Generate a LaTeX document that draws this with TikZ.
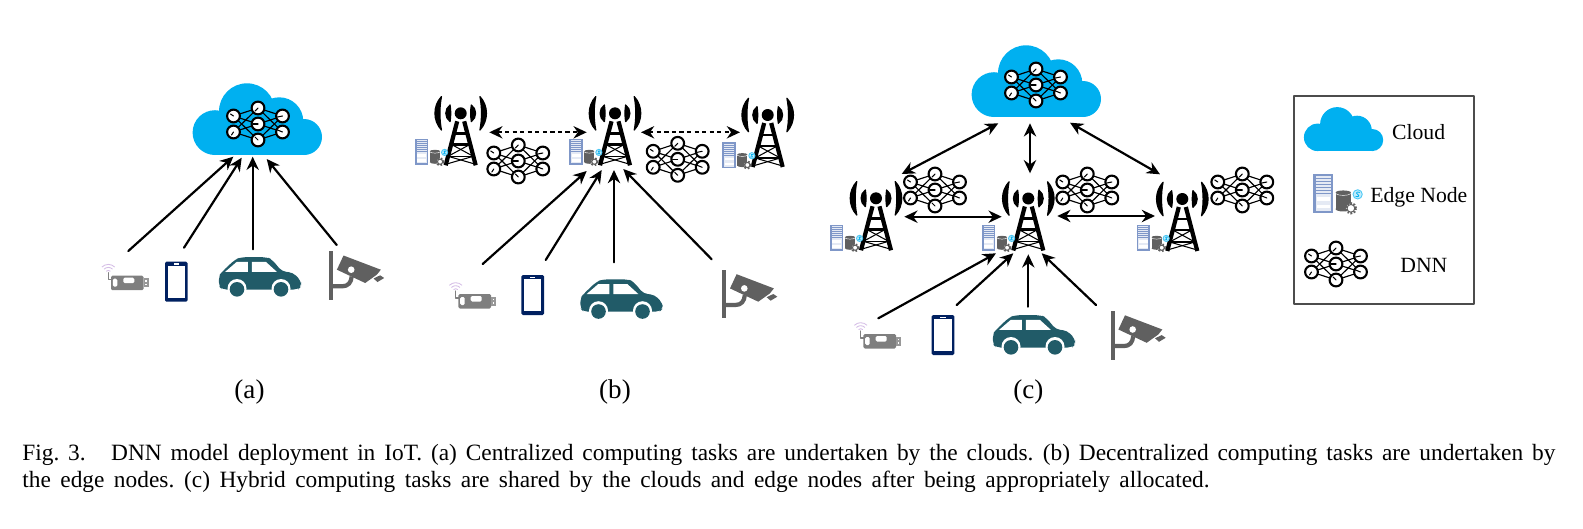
\documentclass[tikz,border=0pt]{standalone}
\usepackage{fontspec}
\setmainfont{Liberation Serif}
\usetikzlibrary{arrows.meta}
\definecolor{cloudblue}{HTML}{00B0F0}
\definecolor{cartea}{HTML}{215B68}
\definecolor{phonenavy}{HTML}{002060}
\definecolor{camgray}{HTML}{606060}
\definecolor{usbgray}{HTML}{7F7F7F}
\definecolor{wifipurple}{HTML}{D5BEE6}
\definecolor{serverblue}{HTML}{7F97C8}
\tikzset{
	wire/.style={line width=1.25pt,black},
	oneway/.style={wire,-{Stealth[length=7.5pt,width=7pt]}},
	twoway/.style={wire,{Stealth[length=7.5pt,width=7pt]}-{Stealth[length=7.5pt,width=7pt]}},
	linkdash/.style={wire,line width=1.15pt,{Stealth[length=7.5pt,width=7pt]}-{Stealth[length=7.5pt,width=7pt]},line cap=butt,dash pattern=on 2.4pt off 1.9pt},
	subcap/.style={font=\fontsize{15.4pt}{18pt}\selectfont,inner sep=0pt},
	legendtext/.style={font=\fontsize{12.35pt}{15pt}\selectfont,inner sep=0pt},
	cloudpic/.pic={
		\fill[cloudblue] (-43,13.6) circle (22.4);
		\fill[cloudblue] (-11,-7.7) circle (28);
		\fill[cloudblue] (21.3,2.3) circle (24);
		\fill[cloudblue] (46,18) circle (18);
		\fill[cloudblue] (-43,5) rectangle (46,36);
	},
	dnnpic/.pic={
		\foreach \ly in {-8,8} {
			\foreach \my in {-16,0,16} {
				\draw[line width=0.65pt] (-24.5,\ly)-- (0,\my);
				\draw[line width=0.65pt] (24.5,\ly)-- (0,\my);
			}
		}
		\foreach \cx/\cy in {-24.5/-8,-24.5/8,0/-16,0/0,0/16,24.5/-8,24.5/8} {
			\draw[line width=1.2pt,fill=white] (\cx,\cy) circle (6.4);
		}
		\foreach \cx/\cy/\dx/\dy in {-24.5/-8/-3/-2,-24.5/8/-2/3,0/-16/-3/3,0/0/-5/0,0/16/-3/-3,24.5/-8/-5/1,24.5/8/-5/-2} {
			\draw[line width=0.6pt] (\cx,\cy)-- ++(\dx,\dy);
		}
	},
	towerpic/.pic={
		\fill (0,0) circle (6);
		\foreach \rr/\sp in {13.5/38,25.5/41} {
			\foreach \turn in {0,180} {
				\filldraw[rotate=\turn,line width=0.7pt] (-\sp:\rr) .. controls (-15:\rr+3.4) and (15:\rr+3.4) .. (\sp:\rr) .. controls (15:\rr-3.4) and (-15:\rr-3.4) .. cycle;
			}
		}
		\draw[line width=2.4pt,line cap=butt] (-3.5,8)-- (-15,52);
		\draw[line width=2.4pt,line cap=butt] (3.5,8)-- (15,52);
		\draw[line width=1.5pt] (-6.6,20)-- (6.6,20);
		\draw[line width=1.5pt] (-9.5,31)-- (9.5,31);
		\draw[line width=0.9pt] (-12.6,43)-- (12.6,43);
		\draw[line width=0.6pt] (-9.5,31)-- (12.6,43);
		\draw[line width=0.6pt] (9.5,31)-- (-12.6,43);
		\draw[line width=0.6pt] (-12.6,43)-- (15,51);
		\draw[line width=0.6pt] (12.6,43)-- (-15,51);
	},
	edgepic/.pic={
		\fill[serverblue] (-6.65,-13) rectangle (6.65,13);
		\fill[white!80!serverblue] (-5,-11.5) rectangle (5,11.5);
		\foreach \sy in {-10,-8,-6,-4,-2,0} {
			\draw[line width=0.35pt,serverblue] (-5,\sy)-- (5,\sy);
		}
		\fill[white] (-4.5,2.5) rectangle (4.5,5);
		\fill[white] (-4.5,7.5) rectangle (4.5,10);
		\fill[camgray] (8.2,-0.5) rectangle (18.4,10.5);
		\fill[camgray] (13.3,10.5) ellipse (5.1 and 1.6);
		\fill[camgray] (13.3,-0.5) ellipse (5.1 and 1.4);
		\draw[line width=0.25pt,white] (8.2,0.2) .. controls (10,1.8) and (16.6,1.8) .. (18.4,0.2);
		\draw[line width=1.4pt,camgray,dash pattern=on 0.9pt off 0.9pt,fill=white,line cap=butt] (18.4,10) circle (3.3);
		\fill[white] (18.4,10) circle (2.5);
		\draw[line width=0.6pt,camgray] (18.4,10) circle (2.6);
		\draw[line width=0.5pt,cloudblue!70!white,fill=cloudblue!25!white] (22.9,0.7) circle (3.1);
		\draw[line width=0.45pt,cloudblue] (24.2,-0.6) .. controls (22.4,-1.4) and (21.4,-0.2) .. (22.9,0.7) .. controls (24.4,1.6) and (23.4,2.8) .. (21.6,2);
	},
	usbpic/.pic={
		\foreach \rr in {3,6,9} {
			\draw[line width=0.5pt,wifipurple,line cap=butt] (-19,-9.3) ++(225:\rr) arc (225:315:\rr);
		}
		\draw[line width=0.6pt,gray] (-19,-10)-- (-19,-3)-- (-16,-3);
		\fill[usbgray,rounded corners=0.8] (-16.3,-7) rectangle (16.3,7.5);
		\fill[usbgray!80!white] (16.3,-4.5) rectangle (21.5,4.5);
		\fill[white,rounded corners=0.8] (-14.5,-4) rectangle (-10,4);
		\fill[white,rounded corners=0.8] (-4,-5) rectangle (7,0.5);
		\fill[white] (18,-2.5) rectangle (19.5,-1);
		\fill[white] (18,1) rectangle (19.5,2.5);
	},
	phonepic/.pic={
		\fill[phonenavy,rounded corners=0.8] (-11.3,-20) rectangle (11.3,20);
		\fill[white] (-8.6,-15.8) rectangle (8.6,16);
		\fill[white] (-2.6,-18.4) rectangle (2.6,-17);
	},
	carpic/.pic={
		\fill[cartea,rounded corners=2.5] (-38,12.5) -- (-41.2,9) -- (-41.2,-1) -- (-38,-5.2) -- (-25,-17.5) -- (-19,-19.8) -- (7,-19.8) -- (12,-17.5) -- (22,-5.5) -- (33,-4.5) -- (41.2,4) -- (41.2,9.5) -- (38,12.5) -- cycle;
		\fill[white] (-34.8,-5.2) -- (-23.2,-15.2) -- (-12.2,-15.2) -- (-12.2,-5.2) -- cycle;
		\fill[white] (-8.2,-15.2) -- (5.8,-15.2) -- (16.8,-5.2) -- (-8.2,-5.2) -- cycle;
		\fill[white] (-23,11.5) circle (9.5);
		\fill[white] (21,11.5) circle (9.5);
		\fill[white] (-36,13) rectangle (34,16);
		\fill[cartea] (-23,12.3) circle (7.3);
		\fill[cartea] (21,12.3) circle (7.3);
	},
	campic/.pic={
		\fill[camgray] (-2.1,-24.2) rectangle (2.1,24.2);
		\draw[camgray,line width=2.4pt,line cap=butt] (0,10.8) -- (11,10.8) .. controls (17,10.8) and (20,7) .. (20.5,1);
		\fill[camgray] (12.3,-20) -- (49.6,-5.8) -- (45.6,-0.8) -- (34,7.5) -- (5.7,-5.8) -- cycle;
		\fill[white] (20,-5.8) circle (3.3);
		\fill[camgray] (42.3,3) -- (49,-0.2) -- (53,2.5) -- (46.3,6.5) -- cycle;
	},
}
\begin{document}
\begin{tikzpicture}[line cap=round,line join=round,x=0.02cm,y=-0.02cm]
	\useasboundingbox (0,0) rectangle (1583,528);
	% a
	\pic at (258,119) {cloudpic};
	\pic at (258,124) {dnnpic};
	\pic at (127.3,282.7) {usbpic};
	\pic at (176.3,281.7) {phonepic};
	\pic at (260,277) {carpic};
	\pic at (331.2,275.5) {campic};
	\coordinate (a1) at (128.3,251);
	\coordinate (a2) at (184,247.7);
	\coordinate (a3) at (252.7,249.3);
	\coordinate (a4) at (336.7,245);
	\coordinate (acl1) at (233.3,156.7);
	\coordinate (acl2) at (241.7,157.7);
	\coordinate (acl3) at (252.7,156.7);
	\coordinate (acl4) at (266.7,159);
	\draw [oneway] (a1)-- (acl1);
	\draw [oneway] (a2)-- (acl2);
	\draw [oneway] (a3)-- (acl3);
	\draw [oneway] (a4)-- (acl4);
	\node[subcap] (capa) at (249.5,391.7) {(a)};
	% b
	\pic at (460.7,113.3) {towerpic};
	\pic at (615,113.3) {towerpic};
	\pic at (767.7,115) {towerpic};
	\pic at (421.7,151.7) {edgepic};
	\pic at (576,151.7) {edgepic};
	\pic at (729,155) {edgepic};
	\pic at (518.3,161) {dnnpic};
	\pic at (677.7,159.3) {dnnpic};
	\pic at (474.7,301) {usbpic};
	\pic at (532.7,295) {phonepic};
	\pic at (621.5,299.2) {carpic};
	\pic at (724.3,294.2) {campic};
	\coordinate (b1) at (482.7,264);
	\coordinate (b2) at (545.7,260);
	\coordinate (b3) at (614,262.3);
	\coordinate (b4) at (711.7,259.3);
	\coordinate (bt1) at (586.7,171);
	\coordinate (bt2) at (601.7,170);
	\coordinate (bt3) at (614,170);
	\coordinate (bt4) at (623.3,169);
	\coordinate (bl) at (489.3,132.3);
	\coordinate (blm) at (586.7,132.3);
	\coordinate (bmr) at (641,132.3);
	\coordinate (br) at (740,132.3);
	\draw [oneway] (b1)-- (bt1);
	\draw [oneway] (b2)-- (bt2);
	\draw [oneway] (b3)-- (bt3);
	\draw [oneway] (b4)-- (bt4);
	\draw [linkdash] (bl)-- (blm);
	\draw [linkdash] (bmr)-- (br);
	\node[subcap] (capb) at (615,391.7) {(b)};
	% c
	\pic at (1037,81) {cloudpic};
	\pic at (1036,85) {dnnpic};
	\pic at (876,198.3) {towerpic};
	\pic at (1028.3,198.5) {towerpic};
	\pic at (1182.3,199) {towerpic};
	\pic at (836.7,237.7) {edgepic};
	\pic at (988.7,237.7) {edgepic};
	\pic at (1143.3,237.7) {edgepic};
	\pic at (935,190) {dnnpic};
	\pic at (1087.3,190) {dnnpic};
	\pic at (1242.3,190) {dnnpic};
	\pic at (879.7,341) {usbpic};
	\pic at (943,335) {phonepic};
	\pic at (1034,335) {carpic};
	\pic at (1112.7,335.3) {campic};
	\coordinate (ccl) at (998.3,123.3);
	\coordinate (ctl) at (901.7,174);
	\coordinate (ccm) at (1030,123.3);
	\coordinate (ctm) at (1030,173.3);
	\coordinate (ccr) at (1070,122.7);
	\coordinate (ctr) at (1160,174.3);
	\coordinate (cl) at (904.3,216.7);
	\coordinate (clm) at (1001.7,216.7);
	\coordinate (cmr) at (1057.3,216);
	\coordinate (cr) at (1155,216);
	\coordinate (c1) at (878.3,318.3);
	\coordinate (c2) at (956.7,305);
	\coordinate (c3) at (1028.3,306.7);
	\coordinate (c4) at (1096,305);
	\coordinate (ct1) at (996,253.3);
	\coordinate (ct2) at (1013.3,253.3);
	\coordinate (ct3) at (1028.3,254.3);
	\coordinate (ct4) at (1041.7,253.3);
	\draw [twoway] (ctl)-- (ccl);
	\draw [twoway] (ctm)-- (ccm);
	\draw [twoway] (ctr)-- (ccr);
	\draw [twoway] (cl)-- (clm);
	\draw [twoway] (cmr)-- (cr);
	\draw [oneway] (c1)-- (ct1);
	\draw [oneway] (c2)-- (ct2);
	\draw [oneway] (c3)-- (ct3);
	\draw [oneway] (c4)-- (ct4);
	\node[subcap] (capc) at (1028.3,391.7) {(c)};
	% legend
	\draw [line width=0.7pt,black!70] (1294,96) rectangle (1474,304);
	\pic[scale=0.613] at (1344,129) {cloudpic};
	\pic[scale=1.5] at (1323.3,193.3) {edgepic};
	\pic at (1336,264) {dnnpic};
	\node[legendtext,anchor=base west] (legcloud) at (1391.7,139) {Cloud};
	\node[legendtext,anchor=base west] (legedge) at (1370,202) {Edge Node};
	\node[legendtext,anchor=base west] (legdnn) at (1400,272.5) {DNN};
	\node[anchor=base west,inner sep=0pt,text width=1533*0.02cm,align=justify,font=\fontsize{13.3pt}{15.37pt}\selectfont] (caption) at (22,460) {\spaceskip=5.4pt plus 3pt minus 1pt\xspaceskip=5.6pt plus 3pt minus 1pt Fig.~3.\hspace{14.5pt}DNN model deployment in IoT. (a) Centralized computing tasks are undertaken by the clouds. (b) Decentralized computing tasks are undertaken by\linebreak the edge nodes. (c) Hybrid computing tasks are shared by the clouds and edge nodes after being appropriately allocated.};
\end{tikzpicture}
\end{document}
